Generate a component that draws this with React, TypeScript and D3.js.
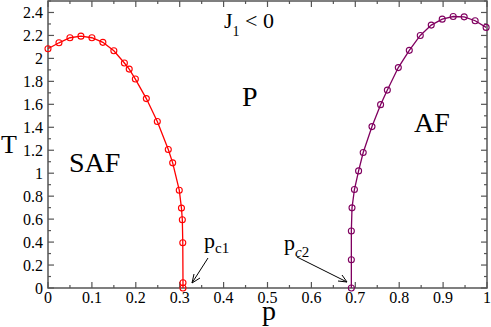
import React from "react";
import * as d3 from "d3";

const safP = [0, 0.025, 0.05, 0.075, 0.1, 0.125, 0.15, 0.174, 0.185, 0.199, 0.224, 0.249, 0.274, 0.284, 0.299, 0.304, 0.306, 0.307, 0.3075, 0.3075];
const safT = [2.084, 2.136, 2.18, 2.194, 2.18, 2.14, 2.067, 1.96, 1.907, 1.82, 1.65, 1.45, 1.206, 1.09, 0.852, 0.696, 0.594, 0.394, 0.046, 0];
const afP = [0.691, 0.691, 0.691, 0.6925, 0.698, 0.7075, 0.718, 0.738, 0.7576, 0.773, 0.798, 0.823, 0.848, 0.873, 0.898, 0.923, 0.948, 0.973, 0.998];
const afT = [0, 0.246, 0.496, 0.698, 0.858, 1.02, 1.18, 1.406, 1.597, 1.724, 1.92, 2.07, 2.2, 2.29, 2.342, 2.365, 2.362, 2.328, 2.27];
const xTicks = [0, 0.1, 0.2, 0.3, 0.4, 0.5, 0.6, 0.7, 0.8, 0.9, 1];
const yTicks = [0, 0.2, 0.4, 0.6, 0.8, 1, 1.2, 1.4, 1.6, 1.8, 2, 2.2, 2.4];

const W = 491, H = 327;
const FONT = "Liberation Serif, Times New Roman, Times, DejaVu Serif, serif";
const AXC = "#555";

export default function App() {
  const x = d3.scaleLinear().domain([0, 1]).range([48, 487]);
  const y = d3.scaleLinear().domain([0, 2.5]).range([288, 1]);
  const line = d3.line<[number, number]>().x(d => x(d[0])).y(d => y(d[1]));
  const saf: [number, number][] = safP.map((p, i) => [p, safT[i]]);
  const af: [number, number][] = afP.map((p, i) => [p, afT[i]]);
  const xMinor = d3.range(0, 1.0001, 0.05);
  const yMinor = d3.range(0, 2.5001, 0.1);
  const x0 = x(0), x1 = x(1), y0 = y(0), y1 = y(2.5);
  const ts = { fontFamily: FONT };

  const series = [
    { data: saf, color: "#ff0000" },
    { data: af, color: "#800060" },
  ];

  return (
    <svg width={W} height={H} style={{ position: "absolute", left: 0, top: 0, background: "#fff", fontFamily: FONT }}>
      <rect x={x0} y={y1} width={x1 - x0} height={y0 - y1} fill="none" stroke={AXC} strokeWidth={1.5} />
      {xMinor.map((v, i) => {
        const major = i % 2 === 0;
        const len = major ? 6 : 3;
        return (
          <g key={"xt" + i} stroke={AXC} strokeWidth={1.2}>
            <line x1={x(v)} x2={x(v)} y1={y0} y2={y0 - len} />
            <line x1={x(v)} x2={x(v)} y1={y1} y2={y1 + len} />
          </g>
        );
      })}
      {yMinor.map((v, i) => {
        const major = i % 2 === 0;
        const len = major ? 6 : 3;
        return (
          <g key={"yt" + i} stroke={AXC} strokeWidth={1.2}>
            <line x1={x0} x2={x0 + len} y1={y(v)} y2={y(v)} />
            <line x1={x1} x2={x1 - len} y1={y(v)} y2={y(v)} />
          </g>
        );
      })}
      {xTicks.map(v => (
        <text key={"xl" + v} x={x(v)} y={303} fontSize={16} textAnchor="middle" fill="#000" style={ts}>{String(v)}</text>
      ))}
      {yTicks.map(v => (
        <text key={"yl" + v} x={43} y={y(v) + 5.5} fontSize={16} textAnchor="end" fill="#000" style={ts}>{String(v)}</text>
      ))}
      {series.map((s, k) => (
        <g key={"s" + k}>
          <path d={line(s.data) || ""} fill="none" stroke={s.color} strokeWidth={1.3} />
          {s.data.map((d, i) => (
            <circle key={i} cx={x(d[0])} cy={y(d[1])} r={3} fill="none" stroke={s.color} strokeWidth={1.1} />
          ))}
        </g>
      ))}
      <text x={1} y={153} fontSize={26} fill="#000" style={ts}>T</text>
      <text x={262} y={320} fontSize={28} fill="#000" style={ts}>p</text>
      <text x={69} y={172} fontSize={28} fill="#000" style={ts}>SAF</text>
      <text x={414} y={132} fontSize={28} fill="#000" style={ts}>AF</text>
      <text x={242} y={106} fontSize={28} fill="#000" style={ts}>P</text>
      <text x={224} y={28} fontSize={22} fill="#000" style={ts}>J<tspan fontSize={14} dy={8}>1</tspan><tspan dy={-8}>{" < 0"}</tspan></text>
      <text x={204} y={248} fontSize={22} fill="#000" style={ts}>p<tspan fontSize={15} dy={5}>c1</tspan></text>
      <text x={284} y={250} fontSize={22} fill="#000" style={ts}>p<tspan fontSize={15} dy={7} fontStyle="italic">c</tspan><tspan fontSize={15}>2</tspan></text>
      <g stroke="#000" strokeWidth={1} fill="none">
        <line x1={208} y1={258} x2={192} y2={283} />
        <polyline points={`${192 + 2},${283 - 9} ${192},${283} ${192 + 8},${283 - 5}`} />
        <line x1={297} y1={257} x2={347} y2={282} />
        <polyline points={`${347 - 9},${282 - 1} ${347},${282} ${347 - 5},${282 - 7}`} />
      </g>
    </svg>
  );
}
